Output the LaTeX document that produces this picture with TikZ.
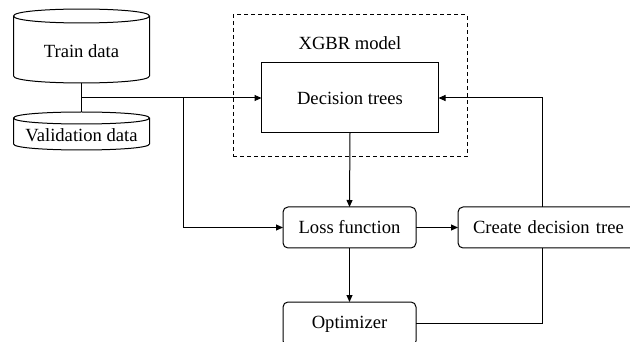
\documentclass[tikz,border=0pt]{standalone}
\usepackage{fontspec}
\setmainfont{Liberation Serif}
\usetikzlibrary{arrows.meta,calc}
\begin{document}
\begin{tikzpicture}[x=1pt,y=-1pt,
  font=\fontsize{18.6}{22}\selectfont,
  line width=1pt,
  arr/.style={-{Triangle[length=7pt,width=6pt]}},
  sqbox/.style={draw,inner sep=0pt,outer sep=0pt},
  rbox/.style={draw,rounded corners=5pt,inner sep=0pt,outer sep=0pt,minimum width=133,minimum height=41},
  lbl/.style={inner sep=0pt,outer sep=0pt}]
\useasboundingbox (0,0) rectangle (630,342);
\clip (0,0) rectangle (630,342);
% Train data cylinder
\draw (13.5,16) .. controls (13.5,6.7) and (149.5,6.7) .. (149.5,16)
      .. controls (149.5,25.3) and (13.5,25.3) .. (13.5,16) -- cycle;
\draw (13.5,16) -- (13.5,76) .. controls (13.5,85.3) and (149.5,85.3) .. (149.5,76) -- (149.5,16);
\node[lbl] (train) at (81.5,51) {Train data};
\coordinate (trainbot) at (81.5,83);
% Validation data cylinder
\draw (13.5,118) .. controls (13.5,110) and (149.5,110) .. (149.5,118)
      .. controls (149.5,126) and (13.5,126) .. (13.5,118) -- cycle;
\draw (13.5,118) -- (13.5,144) .. controls (13.5,152) and (149.5,152) .. (149.5,144) -- (149.5,118);
\node[lbl] (valid) at (81.5,135) {Validation data};
\coordinate (validtop) at (81.5,112);
% XGBR model
\node[sqbox,dashed,dash pattern=on 4pt off 3pt,minimum width=234,minimum height=142] (xgbr) at (350,86) {};
\node[lbl] (xgbrlbl) at (350,43) {XGBR model};
\node[sqbox,minimum width=177,minimum height=70] (dt) at (350,98) {Decision trees};
% Lower boxes
\node[rbox] (loss) at (349.5,227.5) {Loss function};
\node[rbox,minimum width=182,text width=170,align=left,inner sep=0pt] (create) at (549,227.5) {\hspace*{9pt}Create decision tree};
\node[rbox,minimum height=44] (opt) at (349.5,324) {Optimizer};
% connectors
\coordinate (j1) at (81.5,98);
\coordinate (j2) at (183,98);
\coordinate (fb) at (542,98);
\draw (trainbot) -- (validtop);
\draw[arr] (j1) -- (dt.west);
\draw[arr] (j2) |- (loss.west);
\draw[arr] (dt.south) -- (loss.north);
\draw[arr] (loss.east) -- (create.west);
\draw[arr] (loss.south) -- (opt.north);
\draw (opt.east |- 0,323) -| (create.south -| fb);
\draw[arr] (create.north -| fb) -- (fb) -- (dt.east);
\end{tikzpicture}
\end{document}
